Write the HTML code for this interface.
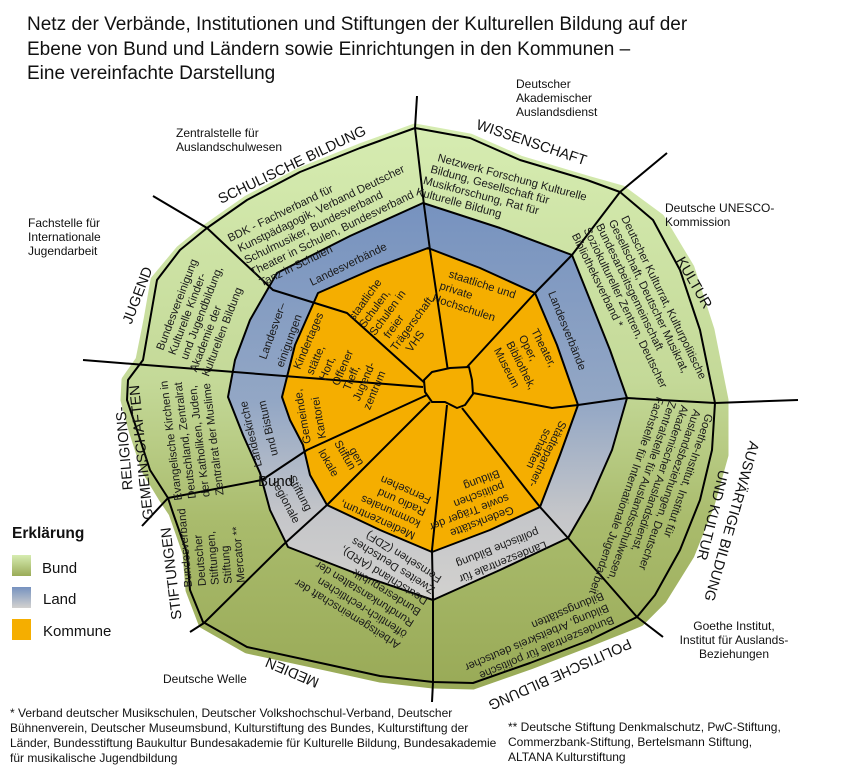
<!DOCTYPE html>
<html><head><meta charset="utf-8"><style>
html,body{margin:0;padding:0;background:#fff;}
svg{display:block;}
.t{font-family:"Liberation Sans",sans-serif;fill:#111;}
.h{font-family:"Liberation Sans",sans-serif;font-size:14.5px;fill:#111;}
.s{font-family:"Liberation Sans",sans-serif;font-size:11.3px;fill:#1a1a1a;}
.o{font-family:"Liberation Sans",sans-serif;font-size:12px;fill:#111;}
</style></head><body>
<svg width="855" height="767" viewBox="0 0 855 767" xmlns="http://www.w3.org/2000/svg">
<defs>
<linearGradient id="g" gradientUnits="userSpaceOnUse" x1="0" y1="130" x2="0" y2="690">
<stop offset="0" stop-color="#d6ecb1"/><stop offset="0.45" stop-color="#c4d998"/><stop offset="0.7" stop-color="#a9bb6c"/><stop offset="1" stop-color="#99aa57"/></linearGradient>
<linearGradient id="l" gradientUnits="userSpaceOnUse" x1="0" y1="200" x2="0" y2="605">
<stop offset="0" stop-color="#7692bf"/><stop offset="0.5" stop-color="#93a7c5"/><stop offset="0.78" stop-color="#c5c6c9"/><stop offset="1" stop-color="#d3d2cf"/></linearGradient>
<linearGradient id="lg" x1="0" y1="0" x2="0" y2="1"><stop offset="0" stop-color="#d6ecb1"/><stop offset="1" stop-color="#9aab58"/></linearGradient>
<linearGradient id="ll" x1="0" y1="0" x2="0" y2="1"><stop offset="0" stop-color="#7692bf"/><stop offset="1" stop-color="#d3d2cf"/></linearGradient>
</defs>

<!-- title -->
<text class="t" font-size="19" x="27" y="30">Netz der Verbände, Institutionen und Stiftungen der Kulturellen Bildung auf der</text>
<text class="t" font-size="19" x="27" y="55">Ebene von Bund und Ländern sowie Einrichtungen in den Kommunen –</text>
<text class="t" font-size="19" x="27" y="79">Eine vereinfachte Darstellung</text>

<!-- green fill -->
<polygon fill="url(#g)" stroke="url(#g)" stroke-width="9" stroke-linejoin="round" points="207,228 247,200 300,172 360,148 415,128 470,138 520,160 587,180 622,190 660,218 690,268 710,330 724,400 724,455 710,505 690,555 662,600 640,622 590,642 530,665 473,685 433,684 380,678 330,667 247,649 203,624 190,590 187,553 173,513 163,498 146,470 133,430 125,400 126,380 140,360 148,320 155,280 180,250"/>
<!-- outer outline -->
<polygon fill="none" stroke="#000" stroke-width="2" stroke-linejoin="round" points="207,228 247,200 300,172 360,148 415,128 470,138 520,160 587,180 620,192 653,220 680,270 700,330 713,393 715,403 712,450 700,500 680,550 655,595 637,617 590,640 530,663 473,683 433,682 380,676 330,665 247,647 203,622 190,590 187,553 173,513 168,498 150,470 137,430 127,400 128,380 143,360 150,320 157,280 180,250"/>
<!-- land ring -->
<polygon fill="url(#l)" stroke="#000" stroke-width="2" stroke-linejoin="round" points="277,273 350,236 423,203 500,228 572,255 592,305 610,350 627,398 612,450 590,500 568,538 500,570 433,600 360,575 288,547 270,510 260,473 243,435 228,397 235,360 250,320"/>
<!-- kommune -->
<polygon fill="#f5ae00" stroke="#000" stroke-width="2" stroke-linejoin="round" points="318,293 375,268 428,248 480,268 535,293 557,345 578,405 560,455 540,507 490,530 432,552 380,530 327,505 310,475 303,445 290,420 282,397 295,345"/>

<!-- spokes -->
<g fill="none" stroke="#000" stroke-width="2" stroke-linejoin="round">
<polyline points="417,96 415,128 424,205 430,250 449,378"/>
<polyline points="467,367 535,293 572,255 620,192 667,153"/>
<polyline points="473,393 552,408 578,405 627,398 715,403 798,400"/>
<polyline points="462,408 540,507 568,538 637,617 663,637"/>
<polyline points="447,405 432,550 433,600 433,682 432,702"/>
<polyline points="430,402 327,505 283,545 204,623 190,632"/>
<polyline points="427,395 307,450 262,480 168,498 142,526"/>
<polyline points="423,387 83,360"/>
<polyline points="427,385 347,313 273,290 207,228 153,196"/>
</g>
<polygon fill="#f5ae00" stroke="#000" stroke-width="2" stroke-linejoin="round" points="424,380 432,372 450,368 469,367 472,380 473,394 465,405 457,408 445,402 432,402 425,392"/>

<!-- outside labels -->
<g class="o">
<text x="516" y="88">Deutscher</text><text x="516" y="102">Akademischer</text><text x="516" y="116">Auslandsdienst</text>
<text x="176" y="137">Zentralstelle für</text><text x="176" y="151">Auslandschulwesen</text>
<text x="28" y="227">Fachstelle für</text><text x="28" y="241">Internationale</text><text x="28" y="255">Jugendarbeit</text>
<text x="665" y="212">Deutsche UNESCO-</text><text x="665" y="226">Kommission</text>
<text x="734" y="630" text-anchor="middle">Goethe Institut,</text><text x="734" y="644" text-anchor="middle">Institut für Auslands-</text><text x="734" y="658" text-anchor="middle">Beziehungen</text>
<text x="163" y="683">Deutsche Welle</text>
</g>

<!-- legend -->
<text class="t" font-size="15.5" font-weight="bold" x="12" y="538">Erklärung</text>
<rect x="12" y="555" width="19" height="21" fill="url(#lg)"/>
<rect x="12" y="587" width="19" height="21" fill="url(#ll)"/>
<rect x="12" y="619" width="19" height="21" fill="#f5ae00"/>
<text class="t" font-size="15" x="42" y="573">Bund</text>
<text class="t" font-size="15" x="43" y="604">Land</text>
<text class="t" font-size="15" x="43" y="636">Kommune</text>

<!-- footnotes -->
<g class="t" font-size="12">
<text x="10" y="717">* Verband deutscher Musikschulen, Deutscher Volkshochschul-Verband, Deutscher</text>
<text x="10" y="732">Bühnenverein, Deutscher Museumsbund, Kulturstiftung des Bundes, Kulturstiftung der</text>
<text x="10" y="747">Länder, Bundesstiftung Baukultur Bundesakademie für Kulturelle Bildung, Bundesakademie</text>
<text x="10" y="762">für musikalische Jugendbildung</text>
<text x="508" y="731">** Deutsche Stiftung Denkmalschutz, PwC-Stiftung,</text>
<text x="508" y="746">Commerzbank-Stiftung, Bertelsmann Stiftung,</text>
<text x="508" y="761">ALTANA Kulturstiftung</text>
</g>

<!-- category labels -->
<text class="h" text-anchor="middle" transform="translate(294,169) rotate(-25.6)">SCHULISCHE BILDUNG</text>
<text class="h" text-anchor="middle" transform="translate(530,147) rotate(18.6)">WISSENSCHAFT</text>
<text class="h" text-anchor="middle" transform="translate(690,285) rotate(60)">KULTUR</text>
<text class="h" text-anchor="middle" transform="translate(727,520) rotate(106)">AUSWÄRTIGE BILDUNG</text>
<text class="h" text-anchor="middle" transform="translate(708,514) rotate(104)">UND KULTUR</text>
<text class="h" text-anchor="middle" transform="translate(558,670) rotate(156)">POLITISCHE BILDUNG</text>
<text class="h" text-anchor="middle" transform="translate(294,668) rotate(203)">MEDIEN</text>
<text class="h" text-anchor="middle" transform="translate(176,573) rotate(-97)">STIFTUNGEN</text>
<text class="h" text-anchor="middle" transform="translate(129,448) rotate(-95)">RELIGIONS-</text>
<text class="h" text-anchor="middle" transform="translate(146,452) rotate(-96)">GEMEINSCHAFTEN</text>
<text class="h" text-anchor="middle" transform="translate(142,297) rotate(-69)">JUGEND</text>

<!-- Bund texts -->
<g class="s" transform="translate(230,242) rotate(-26)">
<text x="0" y="0">BDK - Fachverband für</text>
<text x="4.6" y="13.5">Kunstpädagogik, Verband Deutscher</text>
<text x="5.2" y="27">Schulmusiker, Bundesverband</text>
<text x="5.3" y="40.5">Theater in Schulen, Bundesverband</text>
<text x="9" y="54">Tanz in Schulen</text>
</g>
<g class="s" transform="translate(437,161) rotate(15)">
<text x="0" y="0">Netzwerk Forschung Kulturelle</text>
<text x="-4" y="12.8">Bildung, Gesellschaft für</text>
<text x="-8" y="25.6">Musikforschung, Rat für</text>
<text x="-12" y="38.4">Kulturelle Bildung</text>
</g>
<g class="s" transform="translate(621,218) rotate(64)">
<text x="0" y="0">Deutscher Kulturrat, Kulturpolitische</text>
<text x="-2" y="13">Gesellschaft, Deutscher Musikrat,</text>
<text x="-4" y="26">Bundesarbeitsgemeinschaft</text>
<text x="-6" y="39">Soziokultureller Zentren, Deutscher</text>
<text x="-6" y="52">Bibliotheksverband *</text>
</g>
<g class="s" transform="translate(706,413) rotate(109)">
<text x="0" y="0">Goethe-Institut, Institut für</text>
<text x="0" y="13">Auslandsbeziehungen, Deutscher</text>
<text x="0" y="26">Akademischer Auslandsdienst,</text>
<text x="0" y="39">Zentralstelle für Auslandsschulwesen,</text>
<text x="0" y="52">Fachstelle für Internationale Jugendarbeit</text>
</g>
<g class="s" transform="translate(612,616) rotate(157)">
<text x="0" y="0">Bundeszentrale für politische</text>
<text x="0" y="13">Bildung, Arbeitskreis deutscher</text>
<text x="0" y="26">Bildungsstätten</text>
</g>
<g class="s" transform="translate(401,643) rotate(212)">
<text x="0" y="0">Arbeitsgemeinschaft der</text>
<text x="0" y="13">öffentlich-rechtlichen</text>
<text x="0" y="26">Rundfunkanstalten der</text>
<text x="0" y="39">Bundesrepublik</text>
<text x="0" y="52">Deutschland (ARD),</text>
<text x="0" y="65">Zweites Deutsches</text>
<text x="0" y="78">Fernsehen (ZDF)</text>
</g>
<g class="s" transform="translate(192,587) rotate(-95)">
<text x="0" y="0">Bundesverband</text>
<text x="0" y="14">Deutscher</text>
<text x="0" y="27">Stiftungen,</text>
<text x="0" y="40">Stiftung</text>
<text x="0" y="53">Mercator **</text>
</g>
<g class="s" transform="translate(182,500) rotate(-97)">
<text x="0" y="0">Evangelische Kirchen in</text>
<text x="0" y="14">Deutschland, Zentralrat</text>
<text x="0" y="28">der Katholiken, Juden,</text>
<text x="0" y="42">Zentralrat der Muslime</text>
</g>
<text class="t" font-size="15" x="258" y="486">Bund</text>
<g class="s" transform="translate(163,351) rotate(-69)">
<text x="0" y="0">Bundesvereinigung</text>
<text x="0" y="13">Kulturelle Kinder-</text>
<text x="0" y="26">und Jugendbildung,</text>
<text x="-8" y="39">Akademie der</text>
<text x="-8" y="52">Kulturellen Bildung</text>
</g>

<!-- Land texts -->
<text class="s" transform="translate(312,286) rotate(-26)">Landesverbände</text>
<text class="s" transform="translate(266,360) rotate(-70)">Landesver–</text>
<text class="s" transform="translate(283,368) rotate(-70)">einigungen</text>
<text class="s" transform="translate(548,293) rotate(68)">Landesverbände</text>
<text class="s" transform="translate(262,466) rotate(-103)">Landeskirche</text>
<text class="s" transform="translate(278,455) rotate(-103)">und Bistum</text>
<text class="s" transform="translate(272,483) rotate(62)">regionale</text>
<text class="s" transform="translate(288,478) rotate(62)">Stiftung</text>
<text class="s" transform="translate(545,541) rotate(158)">Landeszentrale für</text>
<text class="s" transform="translate(537,528) rotate(158)">politische Bildung</text>

<!-- Kommune texts -->
<g class="s" transform="translate(354,321) rotate(-54)">
<text x="0" y="0">staatliche</text>
<text x="0" y="13">Schulen,</text>
<text x="0" y="26">Schulen in</text>
<text x="6" y="39">freier</text>
<text x="0" y="52">Trägerschaft,</text>
<text x="8" y="65">VHS</text>
</g>
<g class="s" transform="translate(448,277) rotate(18)">
<text x="0" y="0">staatliche und</text>
<text x="-5" y="14">private</text>
<text x="-8" y="28">Hochschulen</text>
</g>
<g class="s" transform="translate(531,331) rotate(63)">
<text x="0" y="0">Theater,</text>
<text x="0" y="14">Oper,</text>
<text x="0" y="28">Bibliothek,</text>
<text x="0" y="42">Museum</text>
</g>
<g class="s" transform="translate(300,370) rotate(-67)">
<text x="0" y="0">Kindertages</text>
<text x="0" y="14">stätte,</text>
<text x="0" y="28">Hort,</text>
<text x="0" y="42">Offener</text>
<text x="0" y="54">Treff,</text>
<text x="-6" y="67">Jugend-</text>
<text x="-10" y="80">zentrum</text>
</g>
<text class="s" transform="translate(311,443) rotate(-100)">Gemeinde,</text>
<text class="s" transform="translate(326,438) rotate(-100)">Kantorei</text>
<text class="s" transform="translate(318,452) rotate(60)">lokale</text>
<text class="s" transform="translate(334,443) rotate(60)">Stiftun</text>
<text class="s" transform="translate(349,450) rotate(60)">gen</text>
<g class="s" transform="translate(416,533) rotate(204)">
<text x="0" y="0">Medienzentrum,</text>
<text x="0" y="13">kommunales</text>
<text x="0" y="26">Radio und</text>
<text x="0" y="39">Fernsehen</text>
</g>
<g class="s" transform="translate(512,506) rotate(159)">
<text x="0" y="0">Gedenkstätte</text>
<text x="0" y="13">sowie Träger der</text>
<text x="0" y="26">politischen</text>
<text x="0" y="39">Bildung</text>
</g>
<text class="s" transform="translate(560,420) rotate(116)">Städtepartner-</text>
<text class="s" transform="translate(545,428) rotate(116)">schaften</text>
</svg>
</body></html>
